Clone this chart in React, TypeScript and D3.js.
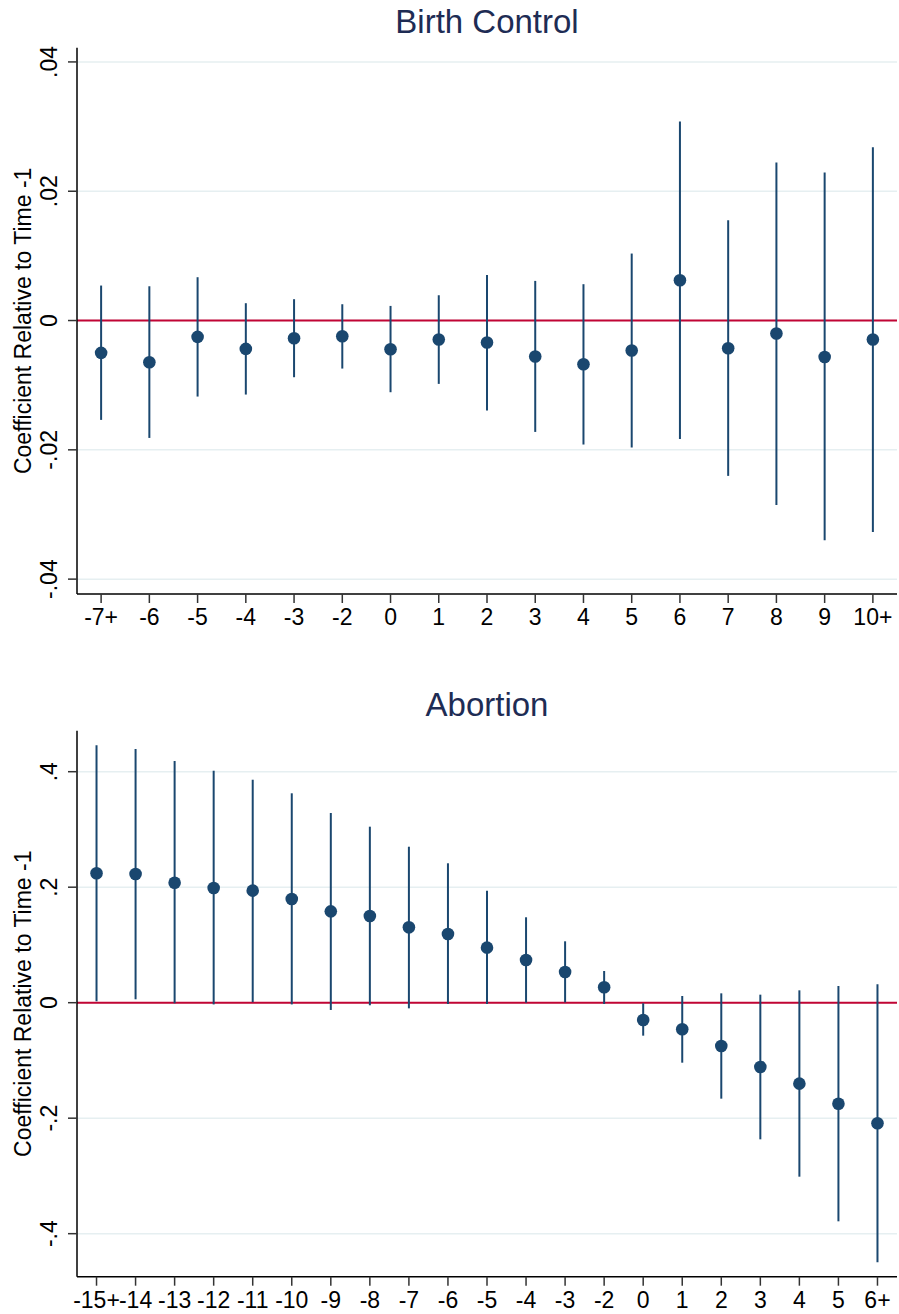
import * as d3 from "d3";

const width = 899;
const height = 1314;
const plotLeft = 77;
const plotRight = 897;

// Birth Control panel
const bcPeriods = ["-7+", "-6", "-5", "-4", "-3", "-2", "0", "1", "2", "3", "4", "5", "6", "7", "8", "9", "10+"];
const bcCoef = [-0.0050, -0.00645, -0.00253, -0.00439, -0.00274, -0.00243, -0.00444, -0.00294, -0.0034, -0.00557, -0.00676, -0.00464, 0.00623, -0.00428, -0.00201, -0.00563, -0.00294];
const bcLower = [-0.01537, -0.01816, -0.01176, -0.01145, -0.00877, -0.00743, -0.01109, -0.0098, -0.01392, -0.01723, -0.01918, -0.01964, -0.01831, -0.02403, -0.02852, -0.03398, -0.0327];
const bcUpper = [0.00541, 0.0053, 0.0067, 0.00268, 0.0033, 0.00252, 0.00226, 0.00391, 0.00705, 0.00613, 0.00562, 0.01036, 0.03078, 0.01551, 0.02444, 0.02289, 0.0268];
const bcTicks = [-0.04, -0.02, 0, 0.02, 0.04];

// Abortion panel
const abPeriods = ["-15+", "-14", "-13", "-12", "-11", "-10", "-9", "-8", "-7", "-6", "-5", "-4", "-3", "-2", "0", "1", "2", "3", "4", "5", "6+"];
const abCoef = [0.2241, 0.2229, 0.2078, 0.1986, 0.194, 0.1796, 0.1582, 0.1501, 0.1305, 0.119, 0.0953, 0.0739, 0.0532, 0.0267, -0.03, -0.0461, -0.075, -0.1113, -0.1402, -0.1749, -0.2089];
const abLower = [0.0024, 0.0059, -0.001, -0.003, 0.001, -0.003, -0.0126, -0.0045, -0.0098, -0.0023, -0.0023, 0.0, 0.0005, -0.0023, -0.0571, -0.1039, -0.1662, -0.2366, -0.3013, -0.3786, -0.4495];
const abUpper = [0.4457, 0.4393, 0.4185, 0.4017, 0.3861, 0.3626, 0.3285, 0.3048, 0.2701, 0.2414, 0.194, 0.1479, 0.1063, 0.0549, -0.001, 0.0116, 0.0162, 0.0139, 0.0214, 0.0289, 0.0318];
const abTicks = [-0.4, -0.2, 0, 0.2, 0.4];

const font = "'Liberation Sans', Arial, sans-serif";
const navy = "#1a476f";
const titleColor = "#1e2c54";
const gridColor = "#e6eff1";
const zeroColor = "#c10534";

const fmt = (v: number) => (v === 0 ? "0" : String(v).replace(/^(-?)0\./, "$1."));

type PanelProps = {
  title: string;
  periods: string[];
  coef: number[];
  lower: number[];
  upper: number[];
  ticks: number[];
  domain: [number, number];
  top: number;
  bottom: number;
  titleY: number;
};

function Panel({ title, periods, coef, lower, upper, ticks, domain, top, bottom, titleY }: PanelProps) {
  const x = d3.scalePoint<string>().domain(periods).range([plotLeft, plotRight]).padding(0.5);
  const y = d3.scaleLinear().domain(domain).range([bottom, top]);
  const midY = (top + bottom) / 2;

  return (
    <g>
      <text
        x={(plotLeft + plotRight) / 2}
        y={titleY}
        textAnchor="middle"
        fontSize={33}
        fill={titleColor}
        fontFamily={font}
      >
        {title}
      </text>

      {/* grid */}
      {ticks.map((t) => (
        <line key={`g${t}`} x1={plotLeft} x2={plotRight} y1={y(t)} y2={y(t)} stroke={gridColor} strokeWidth={1.5} />
      ))}

      {/* zero line */}
      <line x1={plotLeft} x2={plotRight} y1={y(0)} y2={y(0)} stroke={zeroColor} strokeWidth={2} />

      {/* confidence intervals */}
      {periods.map((p, i) => (
        <line
          key={`ci${p}`}
          x1={x(p)}
          x2={x(p)}
          y1={y(lower[i])}
          y2={y(upper[i])}
          stroke={navy}
          strokeWidth={2}
        />
      ))}

      {/* points */}
      {periods.map((p, i) => (
        <circle key={`pt${p}`} cx={x(p)} cy={y(coef[i])} r={6.3} fill={navy} />
      ))}

      {/* axes */}
      <line x1={plotLeft} x2={plotLeft} y1={top} y2={bottom} stroke="#000" strokeWidth={1.5} />
      <line x1={plotLeft} x2={plotRight} y1={bottom} y2={bottom} stroke="#000" strokeWidth={1.5} />

      {ticks.map((t) => (
        <g key={`yt${t}`}>
          <line x1={plotLeft - 9} x2={plotLeft} y1={y(t)} y2={y(t)} stroke="#333" strokeWidth={1.5} />
          <text
            transform={`translate(${plotLeft - 20}, ${y(t)}) rotate(-90)`}
            textAnchor="middle"
            fontSize={23}
            fill="#000"
            fontFamily={font}
          >
            {fmt(t)}
          </text>
        </g>
      ))}

      {periods.map((p) => (
        <g key={`xt${p}`}>
          <line x1={x(p)} x2={x(p)} y1={bottom} y2={bottom + 9} stroke="#333" strokeWidth={1.5} />
          <text x={x(p)} y={bottom + 31} textAnchor="middle" fontSize={23} fill="#000" fontFamily={font}>
            {p}
          </text>
        </g>
      ))}

      <text
        transform={`translate(30.5, ${midY}) rotate(-90)`}
        textAnchor="middle"
        fontSize={23}
        fill="#000"
        fontFamily={font}
      >
        Coefficient Relative to Time -1
      </text>
    </g>
  );
}

export default function App() {
  return (
    <svg
      width={width}
      height={height}
      viewBox={`0 0 ${width} ${height}`}
      style={{ position: "absolute", left: 0, top: 0, background: "#fff" }}
    >
      <rect width={width} height={height} fill="#fff" />
      <Panel
        title="Birth Control"
        periods={bcPeriods}
        coef={bcCoef}
        lower={bcLower}
        upper={bcUpper}
        ticks={bcTicks}
        domain={[-0.0423, 0.0422]}
        top={47.7}
        bottom={594}
        titleY={33.3}
      />
      <Panel
        title="Abortion"
        periods={abPeriods}
        coef={abCoef}
        lower={abLower}
        upper={abUpper}
        ticks={abTicks}
        domain={[-0.4745, 0.471]}
        top={730.7}
        bottom={1276.7}
        titleY={715.7}
      />
    </svg>
  );
}
